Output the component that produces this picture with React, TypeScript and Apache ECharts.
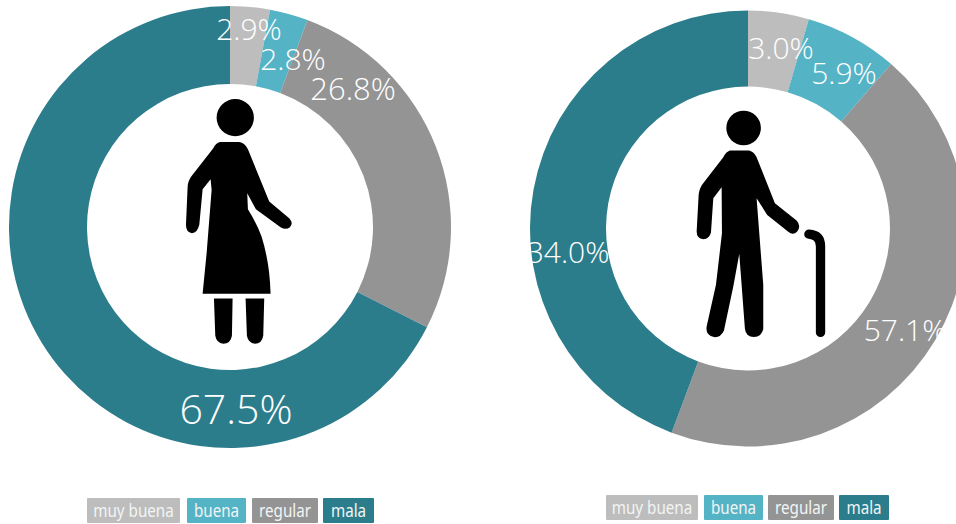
import React, { useEffect, useRef } from "react";
import * as echarts from "echarts";

const categories = ["muy buena", "buena", "regular", "mala"];
const colors = ["#bdbdbd", "#55b3c6", "#949494", "#2c7d8c"];
const womenValues = [2.9, 2.8, 26.8, 67.5];
const menValues = [3.0, 5.9, 57.1, 34.0];
// The reference's right ring is not drawn to its printed labels: these are the arc shares measured from it.
const menArcShares = [4.5, 6.9, 44.3, 44.3];

const womanLabelAt = [[249, 28], [293, 58], [353, 88], [236, 408]];
const manLabelAt = [[781, 47], [844, 72], [905, 329], [568, 251]];
const womanLabelSizes = [30, 30, 31, 41];
const manLabelSizes = [30, 30, 30, 30];
const womanLegend = [[87, 180], [187, 246], [252, 318], [323, 374]];
const manLegend = [[606, 698], [704, 763], [768, 834], [839, 889]];

const WOMAN =
  "M170 83a56 56 0 1 0 112 0a56 56 0 1 0 -112 0Z" +
  "M180 156L238 156Q255 158 264 178L328 335L388 385Q402 400 390 412Q378 422 362 412L288 358L262 310L264 358Q290 400 305 440Q330 520 332 612L128 612L140 490L155 300L152 268L128 298L118 405Q112 430 96 430Q78 428 78 405L83 290Q84 272 95 258L160 175Q168 158 180 156Z" +
  "M162 626L218 626L216 738Q212 762 190 762Q170 760 166 738Z" +
  "M257 626L313 626L310 738Q306 762 285 762Q265 760 261 738Z";

const MAN =
  "M139 84a52 52 0 1 0 104 0a52 52 0 1 0 -104 0Z" +
  "M150 152L208 152Q222 156 230 172L285 310L350 362Q365 378 352 395Q340 408 325 396L262 345L230 295L250 555L250 688Q245 712 222 712Q198 712 195 688L178 462L160 560L132 692Q122 714 102 712Q76 706 80 680L108 555L126 400L125 262L100 295L93 398Q88 418 70 418Q50 416 50 395L56 285Q58 265 68 252L130 172Q138 156 150 152Z";

const CANE = "M387 403Q422 405 422 440L422 698";

echarts.graphic.registerShape("womanIcon", echarts.graphic.extendPath(WOMAN, {}));
echarts.graphic.registerShape("manIcon", echarts.graphic.extendPath(MAN, {}));
echarts.graphic.registerShape("caneIcon", echarts.graphic.extendPath(CANE, {}));

const FONT = '"Open Sans", sans-serif';
const LEGEND_FONT = '"Noto Sans", sans-serif';

function pie(
  arcs: number[],
  printed: number[],
  center: number[],
  radius: number[],
  at: number[][],
  sizes: number[]
) {
  return {
    type: "pie",
    center,
    radius,
    startAngle: 90,
    clockwise: true,
    avoidLabelOverlap: false,
    silent: true,
    data: arcs.map((value, i) => ({
      name: categories[i],
      value,
      itemStyle: { color: colors[i] },
      label: { fontSize: sizes[i], lineHeight: sizes[i] - 3 },
    })),
    label: {
      show: true,
      position: "inside",
      color: "#ffffff",
      fontFamily: FONT,
      fontWeight: 300,
      formatter: (p: any) => printed[p.dataIndex].toFixed(1) + "%",
    },
    labelLine: { show: false },
    labelLayout: (p: any) => ({
      x: at[p.dataIndex][0],
      y: at[p.dataIndex][1],
      align: "center",
      verticalAlign: "middle",
    }),
  };
}

function legend(spans: number[][], top: number) {
  return spans.flatMap((s, i) => [
    {
      type: "rect",
      shape: { x: s[0], y: top, width: s[1] - s[0], height: 25, r: 1 },
      style: { fill: colors[i] },
    },
    {
      type: "text",
      x: (s[0] + s[1]) / 2,
      y: top + 12,
      scaleX: 0.8,
      style: {
        text: categories[i],
        fill: "#f2f5f5",
        font: `19px ${LEGEND_FONT}`,
        align: "center",
        verticalAlign: "middle",
      },
    },
  ]);
}

export default function App() {
  const ref = useRef<HTMLDivElement>(null);
  useEffect(() => {
    const chart = echarts.init(ref.current!, null, { renderer: "svg" });
    chart.setOption({
      animation: false,
      backgroundColor: "#ffffff",
      series: [
        pie(womenValues, womenValues, [230, 227], [143, 221], womanLabelAt, womanLabelSizes),
        pie(menArcShares, menValues, [748, 228.5], [142, 218], manLabelAt, manLabelSizes),
      ],
      graphic: [
        ...legend(womanLegend, 498),
        ...legend(manLegend, 495),
        { type: "womanIcon", x: 160, y: 90, scaleX: 1 / 3, scaleY: 1 / 3, style: { fill: "#000" } },
        { type: "manIcon", x: 680, y: 100, scaleX: 1 / 3, scaleY: 1 / 3, style: { fill: "#000" } },
        {
          type: "caneIcon",
          x: 680,
          y: 100,
          scaleX: 1 / 3,
          scaleY: 1 / 3,
          style: { fill: "none", stroke: "#000", lineWidth: 28, lineCap: "round" },
        },
      ],
    });
    return () => chart.dispose();
  }, []);
  return (
    <div
      ref={ref}
      style={{ position: "absolute", left: 0, top: 0, width: 956, height: 524, overflow: "hidden" }}
    />
  );
}
